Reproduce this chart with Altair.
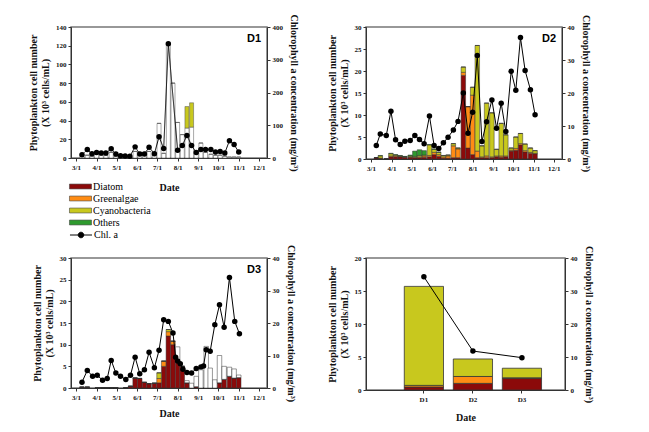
import altair as alt
import pandas as pd

YEAR = "2009"
CATS = ["Diatom", "Greenalgae", "Cyanobacteria", "Others", "Blank"]
CAT_COLORS = ["#8B0A0A", "#FF8C14", "#C8C81E", "#2E9A2E", "#FFFFFF"]
LEFT_TITLE = ["Phytoplankton cell number", "(X 10³ cells/mL)"]
RIGHT_TITLE = "Chlorophyll a concentration (mg/m³)"

# ---------------- D1 ----------------
d1_chl_dates = ["03-10", "03-18", "03-25", "04-01", "04-08", "04-15", "04-23", "04-30",
                "05-07", "05-14", "05-21", "05-29", "06-05", "06-12", "06-19", "06-27",
                "07-04", "07-11", "07-18", "08-01", "08-08", "08-15", "08-22", "08-29",
                "09-05", "09-12", "09-20", "09-27", "10-04", "10-11", "10-18", "10-25", "11-01"]
d1_chl = [10, 26, 13, 17, 15, 15, 28, 12, 7, 6, 5, 34, 12, 12, 33, 13,
          65, 29, 349, 24, 38, 69, 38, 17, 26, 26, 26, 18, 20, 15, 53, 41, 18]

d1_bar_dates = ["03-10", "03-18", "03-25", "04-01", "04-08", "04-15", "04-23", "04-30",
                "05-07", "05-14", "05-21", "05-29", "06-05", "06-12", "06-19", "06-27",
                "07-04", "07-11", "07-18", "07-25", "08-01", "08-08", "08-15", "08-22",
                "08-29", "09-05", "09-12", "09-20", "09-27", "10-04", "10-11", "10-18",
                "10-25", "11-01"]
d1_blank = [2, 3, 2, 4, 3, 3, 6, 2, 1, 1, 1, 7, 6, 6, 7, 3,
            37, 5, 122, 80, 38, 25, 32, 33, 5, 16, 6, 4, 3, 3, 2, 1, 1, 1]
d1_cyano = [0, 0, 0, 0, 0, 0, 0, 0, 0, 0, 0, 0, 0, 0, 0, 0,
            0, 0, 0, 0, 0, 0, 23, 26, 0, 0, 0, 0, 0, 0, 0, 0, 0, 0]

# ---------------- D2 ----------------
d2_dates = ["03-09", "03-15", "03-24", "03-31", "04-07", "04-14", "04-21", "04-29",
            "05-06", "05-13", "05-20", "05-28", "06-04", "06-11", "06-18", "06-25",
            "07-03", "07-10", "07-18", "07-25", "08-01", "08-08", "08-15", "08-22",
            "08-30", "09-06", "09-13", "09-20", "09-28", "10-05", "10-12", "10-19",
            "10-27", "11-03"]
d2_chl = [4.1, 7.6, 7.1, 14.5, 5.8, 4.4, 5.4, 5.6, 7.1, 5.9, 4.6, 13.0, 4.1, 3.2, 4.9, 6.6,
          8.8, 11.4, 20.0, 7.8, 14.2, 31.4, 5.3, 11.3, 17.9, 9.3, 16.9, 8.3, 26.6, 20.8,
          36.8, 26.8, 21.0, 13.4]
d2_diatom = [0.3, 0.2, 0, 0.5, 0.5, 0.5, 0.4, 0.4, 0.3, 0.3, 0.4, 0.5, 1.0, 0.6, 0.2, 0.2,
             0.3, 0.3, 19.0, 2.5, 1.0, 0.3, 0.3, 0.3, 0.3, 0.5, 0.4, 0.5, 1.8, 2.0,
             3.2, 1.6, 1.3, 1.2]
d2_green = [0, 0, 0, 0.2, 0.2, 0.1, 0.1, 0.1, 0.1, 0.2, 0.3, 0.3, 0.5, 0.4, 0.3, 0.5,
            2.7, 2.0, 0.7, 9.4, 13.5, 1.5, 0.2, 0.4, 0.2, 0.2, 0.3, 0.2, 0.2, 0.4,
            0.3, 0.3, 0.2, 0.1]
d2_cyano = [0, 0.5, 0, 0.5, 0.2, 0.1, 0, 0.2, 0.2, 0.3, 0.2, 2.4, 0.7, 0.5, 0.3, 0.2,
            0.5, 0.2, 1.2, 0, 1.8, 24.0, 2.5, 12.0, 10.0, 1.5, 7.4, 4.8, 0.5, 2.6,
            2.3, 1.5, 1.0, 0.6]
d2_others = [0, 0.1, 0, 0.1, 0.1, 0.1, 0.1, 0.2, 1.2, 1.3, 1.0, 0.1, 0.1, 0.1, 0, 0,
             0, 0, 0, 0, 0, 0, 0, 0, 0, 0, 0, 0, 0, 0, 0, 0, 0, 0]

# ---------------- D3 ----------------
d3_chl_dates = ["03-10", "03-18", "03-26", "04-02", "04-10", "04-17", "04-23", "04-30",
                "05-07", "05-15", "05-22", "05-29", "06-05", "06-12", "06-19", "06-27",
                "07-04", "07-11", "07-18", "07-25", "07-29", "08-01", "08-05", "08-09",
                "08-15", "08-22", "08-29", "09-05", "09-09", "09-13", "09-19", "09-26",
                "10-03", "10-10", "10-18", "10-26", "11-02"]
d3_chl = [1.8, 5.4, 3.6, 3.9, 2.4, 2.9, 8.5, 4.6, 3.6, 2.6, 3.9, 9.5, 4.4, 5.6, 11.0, 6.2,
          11.6, 21.0, 20.5, 16.9, 9.5, 8.3, 7.5, 5.8, 4.8, 4.6, 6.0, 6.5, 6.8, 11.8, 11.3,
          19.5, 25.6, 18.7, 34.0, 20.5, 16.7]

d3_bar_dates = ["03-10", "03-18", "04-02", "04-10", "04-17", "04-23", "04-30", "05-15",
                "05-22", "05-29", "06-05", "06-12", "06-19", "06-27", "07-04", "07-11",
                "07-18", "07-25", "08-01", "08-08", "08-15", "08-22", "08-29", "09-05",
                "09-13", "09-19", "09-26", "10-03", "10-10", "10-18", "10-25", "11-01"]
d3_diatom = [0.2, 0.2, 0.1, 0.1, 0.1, 0.1, 0.1, 0.1, 0.4, 2.3, 2.2, 1.3, 1.0, 1.1, 1.2, 5.0,
             12.0, 10.0, 6.5, 5.0, 1.2, 0, 0.3, 0, 0, 0, 0, 1.2, 2.0, 2.7, 2.3, 2.4]
d3_green = [0, 0, 0, 0, 0, 0, 0, 0, 0, 0, 0, 0, 0, 0, 1.0, 1.2,
            1.0, 0.8, 0, 0, 0, 0, 0, 0, 0, 0, 0, 0, 0, 0, 0, 0]
d3_cyano = [0, 0, 0, 0, 0, 0, 0, 0, 0, 0, 0, 0, 0, 0, 1.3, 0,
            0.5, 0, 0, 0, 0, 0, 0, 0, 0, 0, 0, 0, 0, 0, 0, 0]
d3_blank = [0, 0, 0, 0, 0, 0, 0, 0, 0, 0, 0, 0, 0, 0, 0, 0,
            0, 0, 3.0, 0, 0.5, 1.1, 2.4, 4.2, 9.6, 4.6, 1.9, 6.3, 3.0, 2.1, 2.1, 0.6]

# ---------------- Summary ----------------
sum_sites = ["D1", "D2", "D3"]
sum_diatom = [0.45, 1.0, 1.75]
sum_green = [0.25, 1.05, 0.1]
sum_cyano = [15.0, 2.65, 1.45]
sum_chl = [34.3, 11.8, 9.8]


def ts(md):
    return f"{YEAR}-{md}"


def bars_long(dates, series):
    rows = []
    for k, (name, vals) in enumerate(series):
        for d, v in zip(dates, vals):
            rows.append({"date": ts(d), "group": name, "value": v, "order": k})
    return pd.DataFrame(rows)


def chl_df(dates, vals):
    return pd.DataFrame({"date": [ts(d) for d in dates], "chl": vals, "s": "Chl. a"})


def dt(m, d):
    return alt.DateTime(year=2009, month=m, date=d, utc=True)


def xdate(title, pad):
    return alt.X(
        "date:T",
        scale=alt.Scale(type="utc", domain=[dt(3, 1), dt(12, 6)]),
        axis=alt.Axis(values=[dt(m, 1) for m in range(3, 13)], format="%-m/%-d",
                      title=title, titlePadding=pad, labelOverlap=False),
    )


color_scale = alt.Scale(domain=CATS, range=CAT_COLORS)

RECT_SYM = "M-1.8,-0.4L1.8,-0.4L1.8,0.4L-1.8,0.4Z"
CHL_SYM = "M-1.8,0L1.8,0M0.45,0A0.45,0.45 0 1,1 -0.45,0A0.45,0.45 0 1,1 0.45,0Z"


def panel(bdf, cdf, label, ymax, ystep, rmax, rstep, w, h, bar_size, xtitle, xpad,
          bar_stroke="#333", legend=False):
    x = xdate(xtitle, xpad)
    yleft = alt.Y("value:Q", stack="zero",
                  scale=alt.Scale(domain=[0, ymax]),
                  axis=alt.Axis(values=list(range(0, ymax + 1, ystep)), title=LEFT_TITLE,
                                orient="left", titlePadding=5))
    if legend:
        col_leg = alt.Legend(orient="none", legendX=3, legendY=153, title=None,
                             values=CATS[:4], symbolType=RECT_SYM,
                             symbolSize=150, symbolStrokeColor="#444",
                             symbolStrokeWidth=0.6, labelFont="Liberation Serif",
                             labelFontSize=10, labelFontWeight="normal", rowPadding=0,
                             labelOffset=6, labelLimit=200)
    else:
        col_leg = None
    bars = alt.Chart(bdf).mark_bar(size=bar_size, stroke=bar_stroke, strokeWidth=0.5).encode(
        x=x, y=yleft,
        color=alt.Color("group:N", scale=color_scale, legend=col_leg),
        order=alt.Order("order:Q"),
    )
    raxis = alt.Axis(values=list(range(0, rmax + 1, rstep)), title=RIGHT_TITLE,
                     orient="right", titlePadding=6)
    yr = alt.Y("chl:Q", scale=alt.Scale(domain=[0, rmax]), axis=raxis)
    line_enc = dict(x=x, y=yr)
    if legend:
        line_enc["strokeDash"] = alt.StrokeDash(
            "s:N", scale=alt.Scale(domain=["Chl. a"], range=[[1, 0]]),
            legend=alt.Legend(orient="none", legendX=3, legendY=201, title=None,
                              symbolType=CHL_SYM,
                              symbolSize=150, symbolStrokeColor="black",
                              symbolFillColor="black", symbolStrokeWidth=1,
                              labelFont="Liberation Serif", labelFontSize=10,
                              labelFontWeight="normal", labelOffset=6))
    line = alt.Chart(cdf).mark_line(color="black", strokeWidth=1).encode(**line_enc)
    pts = alt.Chart(cdf).mark_point(filled=True, color="black", size=30, opacity=1).encode(
        x=x, y=yr)
    lab = alt.Chart(pd.DataFrame({"t": [label]})).mark_text(
        font="Liberation Sans", fontWeight="bold", fontSize=11, align="right",
        baseline="top").encode(text="t:N", x=alt.value(w - 6), y=alt.value(6))
    return alt.layer(bars, alt.layer(line, pts), lab).resolve_scale(
        y="independent").properties(width=w, height=h)


d1_bars = bars_long(d1_bar_dates, [("Blank", d1_blank), ("Cyanobacteria", d1_cyano)])
d2_bars = bars_long(d2_dates, [("Diatom", d2_diatom), ("Greenalgae", d2_green),
                               ("Cyanobacteria", d2_cyano), ("Others", d2_others)])
d3_bars = bars_long(d3_bar_dates, [("Diatom", d3_diatom), ("Greenalgae", d3_green),
                                   ("Cyanobacteria", d3_cyano), ("Blank", d3_blank)])

p1 = panel(d1_bars, chl_df(d1_chl_dates, d1_chl), "D1", 140, 20, 400, 100, 196, 131, 4,
           "Date", 12, bar_stroke="#555", legend=True)
p2 = panel(d2_bars, chl_df(d2_dates, d2_chl), "D2", 30, 5, 40, 10, 196, 132, 4.5,
           None, 8)
p3 = panel(d3_bars, chl_df(d3_chl_dates, d3_chl), "D3", 30, 5, 40, 10, 196, 130, 4.5,
           "Date", 8)

# summary panel
srows = []
for k, (name, vals) in enumerate([("Diatom", sum_diatom), ("Greenalgae", sum_green),
                                  ("Cyanobacteria", sum_cyano)]):
    for s, v in zip(sum_sites, vals):
        srows.append({"site": s, "group": name, "value": v, "order": k})
sdf = pd.DataFrame(srows)
schl = pd.DataFrame({"site": sum_sites, "chl": sum_chl})
sx = alt.X("site:N", sort=sum_sites,
           scale=alt.Scale(paddingInner=0.2, paddingOuter=0.63, align=0.62),
           axis=alt.Axis(title="Date", labelAngle=0, titlePadding=10))
sbars = alt.Chart(sdf).mark_bar(stroke="#333", strokeWidth=0.8).encode(
    x=sx,
    y=alt.Y("value:Q", stack="zero", scale=alt.Scale(domain=[0, 20]),
            axis=alt.Axis(values=[0, 5, 10, 15, 20], title=LEFT_TITLE, titlePadding=5)),
    color=alt.Color("group:N", scale=color_scale, legend=None),
    order=alt.Order("order:Q"),
)
sry = alt.Y("chl:Q", scale=alt.Scale(domain=[0, 40]),
            axis=alt.Axis(values=[0, 10, 20, 30, 40], title=RIGHT_TITLE, orient="right",
                          titlePadding=6))
sline = alt.Chart(schl).mark_line(color="black", strokeWidth=1).encode(x=sx, y=sry)
spts = alt.Chart(schl).mark_point(filled=True, color="black", size=30, opacity=1).encode(
    x=sx, y=sry)
p4 = alt.layer(sbars, alt.layer(sline, spts)).resolve_scale(y="independent").properties(
    width=199, height=132)

chart = alt.concat(p1, p2, p3, p4, columns=2, spacing={"row": 99, "column": 99},
                   bounds="flush").resolve_scale(
    color="independent", strokeDash="independent").properties(
    padding={"left": 19, "top": 5, "right": 5, "bottom": 5}
).configure_axis(
    labelFont="Liberation Serif", labelFontWeight="bold", labelFontSize=7,
    titleFont="Liberation Serif", titleFontWeight="bold", titleFontSize=10,
    grid=False, domainColor="#333", tickColor="#333", tickSize=3, labelPadding=2,
    labelColor="#111", titleColor="#111"
).configure_legend(
    labelFont="Liberation Serif", labelFontSize=10
).configure_view(stroke="#777", strokeWidth=1.5)

chart.save("out.html", embed_options={"renderer": "svg", "actions": False})
